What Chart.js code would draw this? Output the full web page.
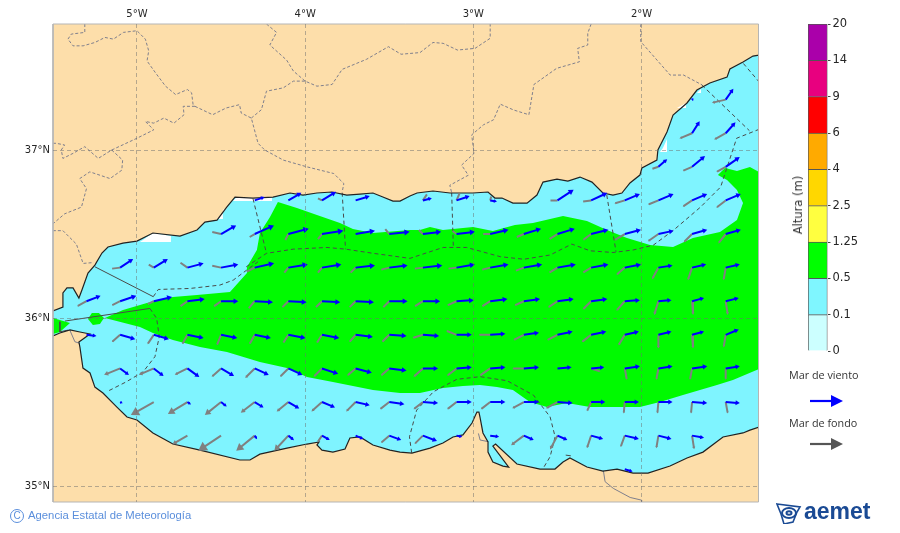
<!DOCTYPE html>
<html lang="es">
<head>
<meta charset="utf-8">
<title>Altura de oleaje</title>
<script src="https://cdn.jsdelivr.net/npm/chart.js@4"></script>
<style>
body { margin: 0; background: #fff; }
#page { position: relative; width: 900px; height: 533px; overflow: hidden; }
canvas { position: absolute; }
.note { position: absolute; white-space: nowrap; }
.sea-key { font: 10.8px "Open Sans", sans-serif; color: #333; }
svg { position: absolute; }
</style>
</head>
<body>
<div id="page">
  <canvas id="mapChart" width="900" height="533" style="left:0;top:0"></canvas>
  <canvas id="scaleChart" width="130" height="380" style="left:770px;top:0"></canvas>
  <div class="note" style="left:798px;top:205px;transform:translate(-50%,-50%) rotate(-90deg);font:11.5px 'DejaVu Sans',sans-serif;color:#333">Altura (m)</div>
  <div class="note sea-key" style="left:789px;top:367px">Mar de viento</div>
  <svg style="left:805px;top:392px" width="42" height="18"><path d="M5 9H28" stroke="#0000ff" stroke-width="2.2"/><path d="M26 3L38 9L26 15Z" fill="#0000ff"/></svg>
  <div class="note sea-key" style="left:789px;top:415px">Mar de fondo</div>
  <svg style="left:805px;top:435px" width="42" height="18"><path d="M5 9H28" stroke="#555" stroke-width="2.2"/><path d="M26 3L38 9L26 15Z" fill="#555"/></svg>
  <div class="note" style="left:10px;top:509px;width:12px;height:12px;border:1.3px solid #5b8fdc;border-radius:50%;font:10px 'Liberation Sans',sans-serif;color:#5b8fdc;text-align:center;line-height:12px">C</div>
  <div class="note" style="left:28px;top:509px;font:11.3px 'Liberation Sans',sans-serif;color:#5b8fdc">Agencia Estatal de Meteorología</div>
  <svg style="left:776px;top:502px" width="28" height="22" viewBox="0 0 28 22" fill="none" stroke="#1a4a94">
    <path d="M1 2L24 5L21 10L17 20L8 22L5 12Z" stroke-width="1.6"/>
    <ellipse cx="13" cy="11" rx="7" ry="5" stroke-width="2"/>
    <ellipse cx="13" cy="11" rx="2.5" ry="1.8" stroke-width="2"/>
  </svg>
  <div class="note" style="left:804px;top:498px;font:bold 23px 'Liberation Sans',sans-serif;color:#1a4a94">aemet</div>
</div>

<script>
// Axis ticks and limits
const lonTicks = [-5, -4, -3, -2];
const latTicks = [35, 36, 37];
const lonRange = [-5.499, -1.305];
const latRange = [34.905, 37.75];

// Coast as [lon, lat]
const northCoast = [[-5.499,36.042],[-5.44,36.065],[-5.44,36.149],[-5.416,36.179],[-5.38,36.179],[-5.345,36.119],[-5.327,36.167],[-5.291,36.268],[-5.25,36.315],[-5.208,36.387],[-5.172,36.423],[-5.083,36.446],[-5,36.458],[-4.905,36.506],[-4.744,36.488],[-4.643,36.524],[-4.596,36.571],[-4.524,36.583],[-4.465,36.661],[-4.417,36.72],[-4.31,36.714],[-4.191,36.72],[-4.09,36.744],[-4.013,36.732],[-3.93,36.744],[-3.841,36.75],[-3.752,36.732],[-3.674,36.738],[-3.597,36.744],[-3.538,36.72],[-3.478,36.696],[-3.436,36.696],[-3.377,36.726],[-3.335,36.744],[-3.24,36.756],[-3.139,36.744],[-3.002,36.744],[-2.913,36.75],[-2.872,36.714],[-2.83,36.714],[-2.765,36.684],[-2.681,36.684],[-2.622,36.732],[-2.586,36.809],[-2.503,36.827],[-2.438,36.815],[-2.366,36.839],[-2.295,36.809],[-2.23,36.744],[-2.17,36.732],[-2.117,36.744],[-2.069,36.804],[-2.01,36.851],[-1.998,36.893],[-1.909,36.94],[-1.903,37],[-1.849,37.107],[-1.813,37.208],[-1.73,37.28],[-1.671,37.357],[-1.594,37.399],[-1.492,37.434],[-1.475,37.482],[-1.397,37.524],[-1.338,37.559],[-1.302,37.565]];
const southCoast = [[-1.302,35.351],[-1.356,35.333],[-1.397,35.316],[-1.516,35.292],[-1.635,35.202],[-1.73,35.167],[-1.831,35.119],[-1.962,35.077],[-2.051,35.077],[-2.146,35.101],[-2.23,35.089],[-2.325,35.113],[-2.426,35.167],[-2.467,35.143],[-2.515,35.101],[-2.604,35.101],[-2.741,35.131],[-2.868,35.25],[-2.884,35.238],[-2.79,35.113],[-2.824,35.119],[-2.884,35.143],[-2.913,35.202],[-2.913,35.262],[-2.943,35.316],[-2.961,35.411],[-2.967,35.44],[-2.979,35.44],[-3.008,35.375],[-3.062,35.304],[-3.121,35.292],[-3.181,35.256],[-3.258,35.226],[-3.365,35.196],[-3.436,35.202],[-3.496,35.214],[-3.597,35.244],[-3.674,35.292],[-3.734,35.286],[-3.763,35.22],[-3.835,35.202],[-3.9,35.214],[-3.93,35.244],[-3.918,35.262],[-3.989,35.25],[-4.108,35.226],[-4.269,35.19],[-4.328,35.155],[-4.388,35.155],[-4.625,35.214],[-4.786,35.25],[-4.905,35.316],[-5,35.393],[-5.059,35.411],[-5.119,35.47],[-5.202,35.554],[-5.25,35.589],[-5.279,35.673],[-5.321,35.702],[-5.339,35.827],[-5.345,35.857],[-5.279,35.905],[-5.339,35.917],[-5.398,35.929],[-5.458,35.911],[-5.499,35.893]];

// Areas with wave height 0.5 - 1.25 m
const greenMain = [[-4.162,36.69],[-4.049,36.655],[-3.93,36.613],[-3.793,36.565],[-3.716,36.53],[-3.597,36.506],[-3.377,36.524],[-3.318,36.524],[-3.258,36.542],[-3.181,36.524],[-3.002,36.542],[-2.884,36.518],[-2.753,36.554],[-2.646,36.565],[-2.467,36.607],[-2.325,36.577],[-2.206,36.524],[-2.087,36.476],[-1.95,36.434],[-1.813,36.423],[-1.695,36.476],[-1.534,36.512],[-1.433,36.583],[-1.397,36.684],[-1.433,36.762],[-1.492,36.821],[-1.546,36.851],[-1.504,36.893],[-1.433,36.875],[-1.356,36.899],[-1.302,36.869],[-1.302,35.696],[-1.457,35.631],[-1.552,35.601],[-1.754,35.542],[-1.891,35.5],[-2.01,35.47],[-2.17,35.47],[-2.307,35.47],[-2.444,35.494],[-2.563,35.47],[-2.664,35.5],[-2.765,35.571],[-2.86,35.589],[-2.961,35.601],[-3.062,35.595],[-3.181,35.583],[-3.318,35.554],[-3.436,35.554],[-3.597,35.571],[-3.716,35.595],[-3.835,35.619],[-3.989,35.649],[-4.108,35.702],[-4.269,35.738],[-4.465,35.798],[-4.625,35.827],[-4.786,35.869],[-4.905,35.911],[-4.982,35.946],[-5.19,36],[-5.083,36.048],[-4.941,36.089],[-4.786,36.125],[-4.643,36.137],[-4.447,36.155],[-4.346,36.268],[-4.346,36.304],[-4.287,36.405],[-4.269,36.506],[-4.209,36.601]];
const greenBlob = [[-5.291,35.994],[-5.268,36.03],[-5.226,36.03],[-5.196,36],[-5.22,35.964],[-5.262,35.958]];
const greenStrait = [[-5.499,36],[-5.398,35.97],[-5.458,35.917],[-5.499,35.905]];

// Gaps of the model grid along the coast
const whitePatches = [
  [[-4.982,36.452],[-4.798,36.452],[-4.798,36.488],[-4.905,36.506]],
  [[-4.429,36.696],[-4.197,36.696],[-4.197,36.714],[-4.31,36.714],[-4.405,36.72]],
  [[-4.524,36.589],[-4.489,36.589],[-4.489,36.643],[-4.459,36.661]],
  [[-1.891,36.988],[-1.849,36.988],[-1.849,37.065],[-1.873,37.012]],
  [[-1.671,37.339],[-1.647,37.339],[-1.647,37.363]],
  [[-1.79,37.25],[-1.736,37.25],[-1.736,37.28]]
];

// Province borders on land
const provinceBorders = [
  [[-5.31,37.75],[-5.31,37.7],[-5.39,37.69],[-5.41,37.66],[-5.38,37.62],[-5.32,37.62],[-5.25,37.64],[-5.19,37.67],[-5.14,37.66],[-5.08,37.7],[-5,37.71],[-4.95,37.66],[-4.93,37.59],[-4.94,37.53],[-4.89,37.46],[-4.83,37.38],[-4.77,37.33],[-4.7,37.36],[-4.675,37.34],[-4.665,37.26]],
  [[-4.655,37.26],[-4.725,37.26],[-4.72,37.21],[-4.78,37.16],[-4.84,37.19],[-4.9,37.16],[-4.95,37.17],[-4.9,37.12],[-5,37.07],[-5.15,37],[-5.23,36.95],[-5.31,37.02],[-5.38,36.98],[-5.44,36.95],[-5.45,37],[-5.43,37.03],[-5.48,37.04],[-5.5,37.04]],
  [[-5.15,37],[-5.085,36.94],[-5.09,36.88],[-5.16,36.83],[-5.28,36.87],[-5.34,36.83],[-5.3,36.77],[-5.33,36.66],[-5.43,36.62],[-5.5,36.56]],
  [[-5.5,36.52],[-5.44,36.52],[-5.36,36.44],[-5.32,36.325],[-5.26,36.33]],
  [[-4.655,37.26],[-4.55,37.21],[-4.47,37.25],[-4.39,37.27],[-4.38,37.22],[-4.32,37.19],[-4.28,37.04],[-4.24,37],[-4.13,36.94],[-3.99,36.9],[-3.83,36.86],[-3.77,36.8],[-3.78,36.75]],
  [[-4.32,37.19],[-4.26,37.24],[-4.23,37.35],[-4.13,37.37],[-4.07,37.41],[-4,37.41],[-3.93,37.38],[-3.84,37.39],[-3.78,37.48],[-3.635,37.54],[-3.505,37.615],[-3.43,37.57],[-3.317,37.58],[-3.24,37.64],[-3.18,37.635],[-3.095,37.595],[-2.99,37.605],[-2.9,37.665],[-2.9,37.75]],
  [[-4.23,37.75],[-4.17,37.7],[-4.21,37.625],[-4.11,37.535],[-4.07,37.47],[-4,37.41]],
  [[-2.3,37.75],[-2.32,37.695],[-2.32,37.625],[-2.38,37.605],[-2.37,37.525],[-2.505,37.486],[-2.64,37.39],[-2.67,37.21],[-2.76,37.238],[-2.84,37.273],[-2.88,37.18],[-2.94,37.15],[-3.01,37.09],[-2.996,36.98],[-3.07,36.91],[-3.03,36.85],[-3.14,36.79],[-3.13,36.75]],
  [[-2.005,37.75],[-2.005,37.645],[-1.83,37.446],[-1.75,37.446],[-1.64,37.387]]
];

// Forecast zones over the sea
const zoneLines = [
  [[-4.31,36.71],[-4.23,36.385]],
  [[-3.78,36.746],[-3.76,36.41]],
  [[-4.35,36.305],[-4.23,36.385],[-4.07,36.41],[-3.87,36.42],[-3.76,36.41],[-3.595,36.385],[-3.377,36.355],[-3.317,36.375],[-3.18,36.42],[-3.04,36.42],[-2.84,36.365],[-2.7,36.35],[-2.544,36.375],[-2.415,36.44],[-2.306,36.4],[-2.17,36.39],[-2.05,36.405],[-1.93,36.434],[-1.81,36.523],[-1.65,36.66],[-1.53,36.78],[-1.435,37.07],[-1.302,37.123]],
  [[-3.129,36.746],[-3.119,36.42]],
  [[-2.207,36.732],[-2.152,36.395]],
  [[-1.642,37.387],[-1.359,37.115]],
  [[-1.395,37.515],[-1.302,37.406]],
  [[-1.305,37.565],[-1.305,37.12]],
  [[-4.903,36.127],[-4.873,36.17],[-4.685,36.176],[-4.507,36.196],[-4.427,36.226],[-4.348,36.285],[-4.28,36.335]],
  [[-4.923,36.057],[-4.883,35.998],[-4.867,35.889],[-4.893,35.77],[-4.963,35.68],[-5.062,35.621],[-5.18,35.561]],
  [[-3.367,35.198],[-3.38,35.293],[-3.337,35.452],[-3.238,35.561],[-3.099,35.635],[-2.96,35.651],[-2.8,35.627],[-2.643,35.541],[-2.544,35.412],[-2.514,35.293],[-2.544,35.174],[-2.588,35.101]]
];
const solidZones = [
  [[-5.25,36.305],[-4.903,36.127]],
  [[-5.428,35.982],[-4.923,36.057]],
  [[-5.458,35.978],[-5.458,35.918],[-5.41,35.928]],
  [[-2.451,35.184],[-2.421,35.18]]
];
const landBorders = [
  [[-2.227,35.091],[-2.217,35.026],[-2.168,34.986],[-2.068,34.932],[-2,34.916],[-2,34.905]],
  [[-2.97,35.313],[-2.96,35.274],[-2.911,35.264]],
  [[-5.399,35.928],[-5.369,35.859],[-5.339,35.849]]
];

// Arrows per grid row: [lon, windU, windV, swellU, swellV]
const row37_3 = [[-1.7,1,1,0,0],[-1.5,7,10,-13,-3]];
const row37_1 = [[-1.7,7,11,-12,-5],[-1.5,9,10,-11,-6]];
const row36_9 = [[-1.9,8,7,-6,-2],[-1.7,12,10,-9,-4],[-1.5,13,9,-9,-5]];
const row36_7 = [[-4.3,9,3,0,0],[-4.1,12,7,0,0],[-3.9,13,8,-4,2],[-3.7,13,4,0,0],[-3.3,8,2,4,6],[-3.1,12,4,3,7],[-2.9,6,-1,1,4],[-2.5,15,10,-7,0],[-2.3,15,7,-8,-1],[-2.1,14,6,-10,-3],[-1.9,14,6,-10,-4],[-1.7,14,6,-9,-6],[-1.5,14,6,-9,-7]];
const row36_5 = [[-4.5,14,8,-9,2],[-4.3,18,8,-5,-3],[-4.1,19,5,-3,-6],[-3.9,20,3,-4,-5],[-3.7,18,3,0,0],[-3.5,19,2,-4,5],[-3.3,17,2,-4,4],[-3.1,17,2,-4,3],[-2.9,17,4,-7,0],[-2.7,16,5,-7,-3],[-2.5,16,5,-8,-5],[-2.3,16,4,-8,-6],[-2.1,15,4,-10,-6],[-1.9,14,3,-10,-7],[-1.7,14,4,-8,-8],[-1.5,14,4,-7,-9]];
const row36_3 = [[-5.1,12,8,-8,-1],[-4.9,13,8,-5,3],[-4.7,15,4,-7,5],[-4.5,16,3,-9,2],[-4.3,18,4,-8,-4],[-4.1,18,3,-4,-5],[-3.9,18,3,-4,-5],[-3.7,18,2,-5,-5],[-3.5,17,2,-8,-2],[-3.3,18,2,-8,-1],[-3.1,17,3,-8,-1],[-2.9,17,3,-8,-2],[-2.7,17,3,-8,-3],[-2.5,17,3,-8,-5],[-2.3,16,3,-8,-5],[-2.1,15,3,-8,-7],[-1.9,13,2,-6,-11],[-1.7,13,3,-4,-12],[-1.5,13,3,-2,-12]];
const row36_1 = [[-5.3,13,5,-9,-5],[-5.1,15,5,-8,-4],[-4.9,17,4,-6,-3],[-4.7,16,2,-7,-5],[-4.5,16,0,-7,-5],[-4.3,17,-1,-6,-7],[-4.1,17,-1,-6,-6],[-3.9,17,-1,-6,-6],[-3.7,17,-1,-6,-6],[-3.5,17,0,-6,-6],[-3.3,16,0,-8,-5],[-3.1,16,1,-9,-4],[-2.9,16,2,-8,-5],[-2.7,15,2,-9,-4],[-2.5,15,2,-9,-6],[-2.3,15,2,-8,-8],[-2.1,14,1,-8,-9],[-1.9,12,1,-4,-13],[-1.7,11,3,1,-13],[-1.5,12,3,2,-13]];
const row35_9 = [[-5.3,9,-1,0,0],[-5.1,14,-4,-8,-7],[-4.9,14,-4,-6,-9],[-4.7,15,-3,-5,-9],[-4.5,15,-3,-4,-10],[-4.3,15,-3,-5,-9],[-4.1,16,-3,-5,-8],[-3.9,16,-3,-5,-8],[-3.7,16,-2,-6,-7],[-3.5,16,-1,-7,-7],[-3.3,15,-1,-10,-3],[-3.1,14,0,-10,4],[-2.9,14,1,-11,0],[-2.7,14,2,-10,-5],[-2.5,14,3,-10,-5],[-2.3,14,3,-9,-7],[-2.1,13,3,-6,-10],[-1.9,12,3,0,-13],[-1.7,11,3,1,-13],[-1.5,12,5,-2,-12]];
const row35_7 = [[-5.1,8,-6,-15,-6],[-4.9,9,-7,-14,-6],[-4.7,11,-8,-12,-6],[-4.5,12,-7,-9,-8],[-4.3,13,-6,-9,-9],[-4.1,13,-6,-8,-8],[-3.9,15,-5,-8,-8],[-3.7,15,-4,-8,-7],[-3.5,16,-2,-8,-7],[-3.3,14,0,-9,-8],[-3.1,14,1,-9,-7],[-2.9,14,1,-10,-7],[-2.7,14,1,-11,0],[-2.5,13,1,0,0],[-2.3,12,1,9,-3],[-2.1,14,2,2,-11],[-1.9,13,2,-2,-11],[-1.7,14,2,-2,-11],[-1.5,13,2,0,-11]];
const row35_5 = [[-5.1,2,-1,0,0],[-4.9,0,0,-21,-12],[-4.7,3,-2,-18,-11],[-4.5,5,-4,-15,-12],[-4.3,8,-5,-13,-10],[-4.1,10,-6,-11,-9],[-3.9,12,-5,-10,-9],[-3.7,13,-3,-9,-9],[-3.5,14,-2,-9,-7],[-3.3,14,-1,-9,-7],[-3.1,14,0,-9,-7],[-2.9,14,0,-9,-7],[-2.7,14,0,-11,-6],[-2.5,14,-1,-11,-6],[-2.3,13,0,-4,-9],[-2.1,13,0,-1,-11],[-1.9,13,0,-1,-11],[-1.7,14,-1,-1,-11],[-1.5,13,-1,2,-11]];
const row35_3 = [[-4.7,0,0,-14,-8],[-4.5,0,0,-21,-14],[-4.3,2,-3,-17,-14],[-4.1,5,-4,-13,-14],[-3.9,7,-4,-4,-6],[-3.7,7,-3,0,0],[-3.5,11,-4,-8,-7],[-3.3,13,-5,-8,-8],[-3.1,5,-1,0,0],[-2.9,8,-1,0,0],[-2.7,9,-4,-12,-9],[-2.5,9,-4,-7,-13],[-2.3,11,-3,-4,-12],[-2.1,13,-3,-4,-11],[-1.9,12,-3,-2,-12],[-1.7,11,-2,2,-13]];
const row35_1 = [[-2.1,7,-2,0,0]];
const gridLats = [37.3, 37.1, 36.9, 36.7, 36.5, 36.3, 36.1, 35.9, 35.7, 35.5, 35.3, 35.1];
const gridRows = [row37_3, row37_1, row36_9, row36_7, row36_5, row36_3, row36_1, row35_9, row35_7, row35_5, row35_3, row35_1];
const arrowUnit = 0.00595; // degrees per arrow unit

// Colour scale
const levelLabels = ['0', '0.1', '0.5', '1.25', '2.5', '4', '6', '9', '14', '20'];
const levelColors = ['#ccffff', '#7ff6ff', '#00ff00', '#ffff40', '#ffd700', '#ffaa00', '#ff0000', '#e8007f', '#aa00aa'];

const landColor = '#fddeaa';
const seaColor = '#7ff4ff';
const greenColor = '#00fa00';

const toPoints = pairs => pairs.map(([x, y]) => ({ x, y }));

// Several pieces in one dataset, a null between them breaks the line
function joinLines(lines) {
    const out = [];
    lines.forEach(line => {
        out.push(...toPoints(line));
        out.push({ x: line[0][0], y: null });
    });
    return out;
}

function area(pairs, color) {
    return { data: toPoints(pairs), showLine: true, fill: 'shape', backgroundColor: color, borderWidth: 0, pointRadius: 0 };
}

function lines(pieces, color, width, dash) {
    return { data: joinLines(pieces), showLine: true, borderColor: color, borderWidth: width, borderDash: dash || [], pointRadius: 0 };
}

// Shaft and head datasets of one arrow family
function arrowSets(uIdx, color, width, headSize) {
    const shafts = [];
    const tips = [];
    const radii = [];
    const angles = [];
    gridRows.forEach((row, r) => {
        const lat = gridLats[r];
        row.forEach(cell => {
            const u = cell[uIdx];
            const v = cell[uIdx + 1];
            if (!u && !v) return;
            const len = Math.hypot(u, v);
            const rad = headSize(len);
            const k = (len - rad * 0.6) * arrowUnit / len;
            const tip = { x: cell[0] + u * k, y: lat + v * k };
            shafts.push({ x: cell[0], y: lat }, tip, { x: cell[0], y: null });
            tips.push(tip);
            radii.push(rad);
            angles.push(Math.atan2(u, v) * 180 / Math.PI);
        });
    });
    return [
        { data: shafts, showLine: true, borderColor: color, borderWidth: width, pointRadius: 0 },
        { data: tips, showLine: false, pointStyle: 'triangle', pointRadius: radii, pointRotation: angles, backgroundColor: color, borderWidth: 0 }
    ];
}

const frameCorners = [[lonRange[0], latRange[0]], [lonRange[1], latRange[0]], [lonRange[1], latRange[1]], [lonRange[0], latRange[1]], [lonRange[0], latRange[0]]];

// Painter's order, first one at the bottom
const mapDatasets = [
    area(frameCorners, landColor),
    area(northCoast.concat(southCoast), seaColor),
    ...whitePatches.map(p => area(p, '#ffffff')),
    area(greenMain, greenColor),
    area(greenBlob, greenColor),
    area(greenStrait, greenColor),
    lines(provinceBorders, '#7f7f8c', 1, [3, 2]),
    lines(landBorders, '#7f7f8c', 1),
    lines(zoneLines, '#4a4a4a', 1, [4, 3]),
    lines(solidZones, '#4a4a4a', 1),
    lines([northCoast, southCoast], '#222222', 1.2),
    ...arrowSets(3, '#808080', 2, len => Math.max(0, (len - 8) * 0.34)),
    ...arrowSets(1, '#0000ff', 2, len => 1.4 + len * 0.11),
    Object.assign(lines([frameCorners], '#b5b5b5', 1), { clip: false })
];
mapDatasets.forEach((d, i) => { d.order = -i; });

new Chart(document.getElementById('mapChart'), {
    type: 'scatter',
    data: { datasets: mapDatasets },
    options: {
        responsive: false,
        animation: false,
        events: [],
        layout: { padding: { left: 0, top: 0, right: 141.5, bottom: 31 } },
        plugins: { legend: { display: false }, tooltip: { enabled: false } },
        scales: {
            x: {
                type: 'linear',
                position: 'top',
                min: lonRange[0],
                max: lonRange[1],
                afterFit: s => { s.height = 24; },
                afterBuildTicks: s => { s.ticks = lonTicks.map(value => ({ value })); },
                border: { display: false, dash: [4, 3] },
                grid: { z: 1, color: 'rgba(110,110,110,0.5)', lineWidth: 1, drawTicks: false },
                ticks: {
                    autoSkip: false,
                    maxRotation: 0,
                    padding: 4,
                    color: '#262626',
                    font: { family: 'DejaVu Sans', size: 10 },
                    callback: v => Math.abs(v) + '°W'
                }
            },
            y: {
                type: 'linear',
                position: 'left',
                min: latRange[0],
                max: latRange[1],
                afterFit: s => { s.width = 53; },
                afterBuildTicks: s => { s.ticks = latTicks.map(value => ({ value })); },
                border: { display: false, dash: [4, 3] },
                grid: { z: 1, color: 'rgba(110,110,110,0.5)', lineWidth: 1, drawTicks: false },
                ticks: {
                    autoSkip: false,
                    padding: 3,
                    color: '#262626',
                    font: { family: 'DejaVu Sans', size: 10 },
                    callback: v => v + '°N'
                }
            }
        }
    }
});

// Colour bar, every level takes one equal cell
new Chart(document.getElementById('scaleChart'), {
    type: 'bar',
    data: {
        labels: [''],
        datasets: levelColors.map(color => ({
            data: [1],
            backgroundColor: color,
            borderColor: '#555555',
            borderWidth: 1,
            barPercentage: 1,
            categoryPercentage: 1
        }))
    },
    options: {
        responsive: false,
        animation: false,
        events: [],
        layout: { padding: { left: 38, top: 24, right: 0, bottom: 29 } },
        plugins: { legend: { display: false }, tooltip: { enabled: false } },
        scales: {
            x: { stacked: true, display: false },
            y: {
                stacked: true,
                position: 'right',
                min: 0,
                max: levelColors.length,
                afterFit: s => { s.width = 72.5; },
                grid: { drawOnChartArea: false, tickLength: 3, color: '#444444' },
                border: { display: false },
                ticks: {
                    stepSize: 1,
                    padding: 2,
                    color: '#262626',
                    font: { family: 'DejaVu Sans', size: 11.5 },
                    callback: v => levelLabels[v]
                }
            }
        }
    }
});
</script>
</body>
</html>
